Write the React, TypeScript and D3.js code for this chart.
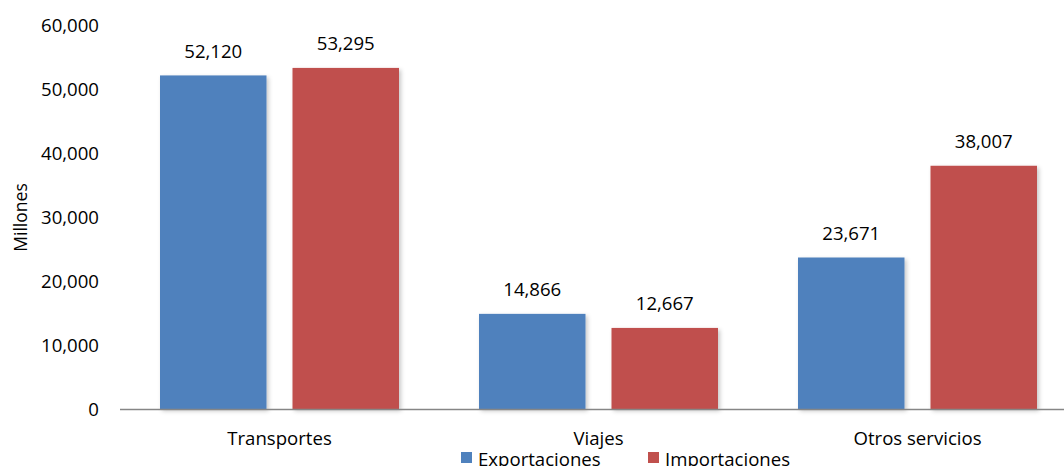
import React from "react";
import * as d3 from "d3";

const categories = ["Transportes", "Viajes", "Otros servicios"];
const seriesNames = ["Exportaciones", "Importaciones"];
const exportaciones = [52120, 14866, 23671];
const importaciones = [53295, 12667, 38007];
const yTicks = [0, 10000, 20000, 30000, 40000, 50000, 60000];
const colors = ["#4F81BD", "#C0504D"];

const W = 1064;
const H = 466;
const left = 120;
const right = 1077;
const top = 25;
const bottom = 409;
const font = "'Open Sans', 'Noto Sans', sans-serif";
const fs = 18.6;

export default function App() {
  const x0 = d3.scaleBand<string>().domain(categories).range([left, right]).paddingInner(0).paddingOuter(0);
  const bw = x0.bandwidth();
  const x1 = d3.scaleBand<string>().domain(seriesNames).range([40, bw - 40]).paddingInner(26 / 239 * 2 / (1 + 26 / 239)).paddingOuter(0);
  const y = d3.scaleLinear().domain([0, 60000]).range([bottom, top]);
  const fmt = d3.format(",");
  const series = [exportaciones, importaciones];

  return (
    <svg width={W} height={H} style={{ position: "absolute", left: 0, top: 0, background: "#fff" }} fontFamily={font}>
      <defs>
        <filter id="sh" x="-10%" y="-10%" width="130%" height="120%">
          <feDropShadow dx="2" dy="2" stdDeviation="2" floodColor="#000" floodOpacity="0.22" />
        </filter>
      </defs>
      {yTicks.map((t) => (
        <text key={t} x={99} y={y(t) + 6.5} textAnchor="end" fontSize={fs} fill="#000">
          {fmt(t)}
        </text>
      ))}
      <text transform={`translate(27,${217.5}) rotate(-90)`} textAnchor="middle" fontSize={17.5} fill="#000">
        Millones
      </text>
      {categories.map((c, i) =>
        series.map((s, j) => {
          const bx = (x0(c) as number) + (x1(seriesNames[j]) as number);
          const w = x1.bandwidth();
          return (
            <g key={c + j}>
              <rect x={bx} y={y(s[i])} width={w} height={bottom - y(s[i])} fill={colors[j]} filter="url(#sh)" />
              <text x={bx + w / 2} y={y(s[i]) - 17.5} textAnchor="middle" fontSize={fs} fill="#000">
                {fmt(s[i])}
              </text>
            </g>
          );
        })
      )}
      <line x1={left} x2={W} y1={bottom + 0.5} y2={bottom + 0.5} stroke="#868686" strokeWidth={1.5} />
      {categories.map((c) => (
        <text key={c} x={(x0(c) as number) + bw / 2} y={444.5} textAnchor="middle" fontSize={fs} fill="#000">
          {c}
        </text>
      ))}
      {seriesNames.map((n, j) => {
        const lx = [461, 648][j];
        return (
          <g key={n}>
            <rect x={lx} y={452} width={11} height={11} fill={colors[j]} />
            <text x={lx + 17} y={466} fontSize={fs} fill="#000">
              {n}
            </text>
          </g>
        );
      })}
    </svg>
  );
}
